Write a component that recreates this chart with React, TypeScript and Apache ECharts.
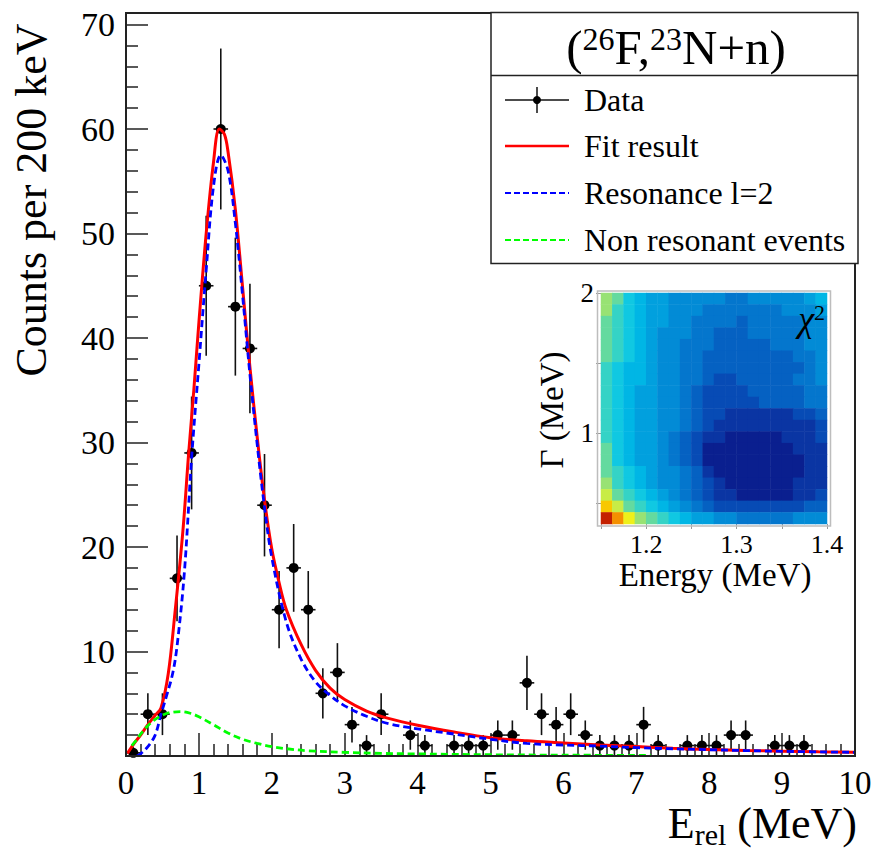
import React, { useEffect, useRef } from 'react';
import * as echarts from 'echarts';

const FONT = '"Liberation Serif", "Times New Roman", serif';
const f = (px: number) => `${px}px ${FONT}`;

// ---------------- main spectrum data (bin centres, counts, errors) ----------------
const DATA_E = [0.1, 0.3, 0.5, 0.7, 0.9, 1.1, 1.3, 1.5, 1.7, 1.9, 2.1, 2.3, 2.5, 2.7, 2.9, 3.1, 3.3, 3.5, 3.9, 4.1,
  4.5, 4.7, 4.9, 5.1, 5.3, 5.5, 5.7, 5.9, 6.1, 6.3, 6.5, 6.7, 6.9, 7.1, 7.3, 7.7, 7.9, 8.1, 8.3, 8.5, 8.9, 9.1, 9.3];
const DATA_COUNTS = [0.3, 4, 4, 17, 29, 45, 60, 43, 39, 24, 14, 18, 14, 6, 8, 3, 1, 4, 2, 1,
  1, 1, 1, 2, 2, 7, 4, 3, 4, 2, 1, 1, 1, 3, 1, 1, 1, 1, 2, 2, 1, 1, 1];
const DATA_ERR = [0.55, 2, 2, 4.1, 5.4, 6.7, 7.7, 6.6, 6.2, 4.9, 3.7, 4.2, 3.7, 2.4, 2.8, 1.7, 1, 2, 1.4, 1,
  1, 1, 1, 1.4, 1.4, 2.6, 2, 1.7, 2, 1.4, 1, 1, 1, 1.7, 1, 1, 1, 1, 1.4, 1.4, 1, 1, 1];
const BIN_HALF_WIDTH = 0.1;

// Fit result (red)
const FIT_E = [0.02, 0.1, 0.2, 0.3, 0.4, 0.48, 0.58, 0.67, 0.78, 0.86, 0.93, 1.0, 1.1, 1.2, 1.28, 1.35, 1.4, 1.5, 1.6, 1.7,
  1.8, 1.9, 2.0, 2.1, 2.2, 2.4, 2.6, 2.8, 3.0, 3.3, 3.6, 4.0, 4.5, 5.0, 5.5, 6.0, 6.5, 7.0, 7.5, 8.0, 8.5, 9.0, 9.5, 10];
const FIT_Y = [0.25, 1.1, 2.0, 3.0, 3.9, 4.6, 7.9, 13.6, 21.5, 29, 35, 41.5, 50, 56.8, 60, 59.5, 57.8, 52.3, 44.8, 37.2,
  30.5, 24.5, 19.8, 16.6, 14, 10.7, 8.2, 6.5, 5.4, 4.3, 3.6, 2.95, 2.3, 1.75, 1.45, 1.25, 1.05, 0.9, 0.75, 0.62, 0.53, 0.46, 0.4, 0.35];

// Resonance l=2 (blue dashed)
const RES_E = [0.15, 0.2, 0.3, 0.4, 0.48, 0.55, 0.64, 0.7, 0.8, 0.9, 1.0, 1.1, 1.2, 1.3, 1.4, 1.5, 1.6, 1.7, 1.8, 1.9,
  2.0, 2.2, 2.4, 2.6, 2.8, 3.0, 3.3, 3.6, 4.0, 4.5, 5.0, 5.5, 6.0, 6.5, 7.0, 8.0, 9.0, 10];
const RES_Y = [0, 0.2, 0.9, 2.0, 4.0, 5.6, 7.9, 10.5, 17.5, 28.5, 37.5, 46.5, 54.5, 57.5, 56, 51, 44, 36.5, 29.8, 23.8,
  19, 12.8, 9.3, 7.1, 5.8, 4.8, 3.8, 3.1, 2.6, 2.1, 1.6, 1.2, 1.05, 0.95, 0.8, 0.6, 0.45, 0.35];

// Non resonant events (green dashed)
const BKG_E = [0.08, 0.15, 0.2, 0.3, 0.4, 0.5, 0.6, 0.75, 0.9, 1.0, 1.2, 1.4, 1.6, 1.8, 2.0, 2.2, 2.5, 3.0, 3.5, 4.0, 5.0, 6.0, 7.2];
const BKG_Y = [1.0, 1.6, 2.1, 2.9, 3.5, 3.9, 4.15, 4.25, 4.05, 3.75, 3.0, 2.2, 1.6, 1.2, 0.9, 0.7, 0.5, 0.35, 0.25, 0.2, 0.12, 0.08, 0.05];

// ---------------- inset (chi2 map) ----------------
const INSET_E_TICKS = [1.15, 1.2, 1.25, 1.3, 1.35, 1.4];
const INSET_E_LABELS = [1.2, 1.3, 1.4];
const INSET_G_TICKS = [0.5, 1, 1.5, 2];
const INSET_G_LABELS = [1, 2];

// contour level index per cell (rows: Gamma 2.0 -> 0.35, columns: E 1.15 -> 1.40)
const CHI2_LEVELS = [
  [11, 10, 8, 7, 6, 6, 5, 5, 5, 5, 5, 4, 4, 5, 5, 5, 5, 5, 6, 7],
  [11, 9, 8, 7, 6, 6, 5, 5, 5, 4, 4, 4, 4, 4, 4, 4, 5, 5, 5, 6],
  [10, 9, 8, 7, 6, 6, 5, 5, 4, 4, 4, 4, 3, 4, 4, 4, 4, 4, 5, 5],
  [10, 9, 8, 7, 6, 5, 5, 5, 4, 4, 3, 3, 3, 4, 4, 4, 4, 4, 5, 5],
  [10, 9, 8, 7, 6, 5, 5, 4, 4, 4, 3, 3, 3, 3, 3, 4, 4, 4, 5, 5],
  [10, 9, 8, 7, 6, 5, 5, 4, 4, 3, 3, 3, 3, 3, 3, 3, 3, 4, 4, 5],
  [9, 8, 7, 7, 6, 5, 5, 4, 4, 3, 3, 3, 3, 3, 3, 3, 3, 3, 4, 5],
  [9, 8, 7, 7, 6, 5, 5, 4, 4, 3, 2, 2, 3, 3, 3, 3, 3, 4, 4, 5],
  [9, 8, 7, 6, 6, 5, 5, 4, 3, 2, 2, 2, 2, 3, 3, 3, 3, 3, 4, 4],
  [9, 8, 7, 6, 6, 5, 5, 4, 3, 2, 2, 2, 2, 2, 3, 3, 3, 3, 4, 4],
  [9, 8, 7, 6, 6, 5, 5, 4, 3, 2, 2, 1, 1, 1, 1, 1, 1, 2, 2, 3],
  [9, 8, 7, 6, 6, 5, 5, 4, 3, 2, 1, 1, 1, 1, 1, 1, 1, 1, 1, 2],
  [9, 8, 7, 6, 6, 5, 4, 3, 2, 1, 1, 0, 0, 0, 0, 0, 1, 1, 1, 2],
  [10, 8, 7, 6, 6, 5, 4, 3, 2, 0, 0, 0, 0, 0, 0, 0, 0, 1, 1, 1],
  [10, 8, 7, 6, 6, 5, 4, 3, 2, 0, 0, 0, 0, 0, 0, 0, 0, 0, 1, 1],
  [10, 9, 8, 7, 6, 5, 5, 4, 3, 1, 0, 0, 0, 0, 0, 0, 0, 0, 1, 1],
  [11, 9, 8, 7, 6, 5, 5, 4, 3, 2, 1, 0, 0, 0, 0, 0, 0, 1, 1, 1],
  [12, 10, 9, 8, 7, 6, 5, 4, 3, 2, 1, 1, 0, 0, 0, 0, 0, 1, 1, 2],
  [14, 12, 10, 9, 8, 7, 6, 5, 4, 3, 2, 2, 2, 2, 2, 2, 2, 2, 3, 3],
  [17, 15, 13, 11, 10, 9, 8, 7, 6, 6, 5, 5, 4, 4, 4, 4, 4, 5, 5, 5],
];
const CHI2_COLORS = ['#0a1f8f', '#0a35a3', '#074bb5', '#0561c2', '#0476cd', '#028bd6', '#01a0de', '#00b6e5', '#10c8e2',
  '#35d3c6', '#64da9f', '#98e274', '#c8ec46', '#eef01a', '#f8c800', '#f49000', '#e85500', '#c42000', '#8a0000'];

export default function App() {
  const ref = useRef<HTMLDivElement>(null);

  useEffect(() => {
    document.body.style.margin = '0';
    const chart = echarts.init(ref.current as HTMLDivElement, undefined, { renderer: 'svg' });

    const heatData: number[][] = [];
    CHI2_LEVELS.forEach((row, r) => row.forEach((lv, c) => heatData.push([c, r, lv])));
    const colNames = CHI2_LEVELS[0].map((_, i) => String(i));
    const rowNames = CHI2_LEVELS.map((_, i) => String(i));

    const tickStyle = { color: '#222', width: 1.5 };
    const lbl = (size: number) => ({ fontFamily: FONT, fontSize: size, color: '#000' });

    const option: any = {
      animation: false,
      backgroundColor: '#fff',
      grid: [
        { left: 126, top: 24.5, width: 729, height: 731.5 },
        { left: 601, top: 293, width: 226, height: 231 },
        { left: 601, top: 293, width: 226, height: 231 },
      ],
      xAxis: [
        {
          type: 'value', gridIndex: 0, min: 0, max: 10, interval: 1,
          axisLine: { show: false }, splitLine: { show: false },
          axisTick: { show: true, inside: true, length: 23, lineStyle: tickStyle },
          minorTick: { show: true, splitNumber: 5, length: 12, lineStyle: tickStyle },
          axisLabel: { ...lbl(33), margin: 10 },
        },
        { type: 'category', gridIndex: 1, data: colNames, show: false },
        {
          type: 'value', gridIndex: 2, min: 1.15, max: 1.4,
          axisLine: { show: false }, splitLine: { show: false },
          axisTick: { show: true, customValues: INSET_E_TICKS, length: 5, lineStyle: { color: '#999', width: 1 } },
          axisLabel: { ...lbl(26), customValues: INSET_E_LABELS, margin: 7, formatter: (v: number) => v.toFixed(1) },
        },
      ],
      yAxis: [
        {
          type: 'value', gridIndex: 0, min: 0, max: 70, interval: 10,
          axisLine: { show: false }, splitLine: { show: false },
          axisTick: { show: true, inside: true, length: 22, lineStyle: tickStyle },
          minorTick: { show: true, splitNumber: 5, length: 12, lineStyle: tickStyle },
          axisLabel: { ...lbl(34), margin: 11, formatter: (v: number) => (v === 0 ? '' : String(v)) },
        },
        { type: 'category', gridIndex: 1, data: rowNames, show: false, inverse: true },
        {
          type: 'value', gridIndex: 2, min: 0.35, max: 2.0,
          axisLine: { show: false }, splitLine: { show: false },
          axisTick: { show: true, customValues: INSET_G_TICKS, length: 5, lineStyle: { color: '#999', width: 1 } },
          axisLabel: { ...lbl(27), customValues: INSET_G_LABELS, margin: 7, formatter: (v: number) => String(v) },
        },
      ],
      visualMap: {
        type: 'piecewise', show: false, seriesIndex: 4, dimension: 2,
        pieces: CHI2_COLORS.map((color, i) => ({ value: i, color })),
      },
      series: [
        {
          type: 'custom', xAxisIndex: 0, yAxisIndex: 0, z: 2,
          encode: { x: 0, y: 1 },
          data: DATA_E.map((e, i) => [e, DATA_COUNTS[i], DATA_ERR[i]]),
          renderItem: (params: any, api: any) => {
            const x = api.value(0), y = api.value(1), err = api.value(2);
            const c = api.coord([x, y]);
            const lo = api.coord([x, Math.max(0, y - err)]);
            const hi = api.coord([x, y + err]);
            const l = api.coord([x - BIN_HALF_WIDTH, y]);
            const r = api.coord([x + BIN_HALF_WIDTH, y]);
            const st = { stroke: '#111', lineWidth: 1.6 };
            return {
              type: 'group',
              children: [
                { type: 'line', shape: { x1: lo[0], y1: lo[1], x2: hi[0], y2: hi[1] }, style: st },
                { type: 'line', shape: { x1: l[0], y1: l[1], x2: r[0], y2: r[1] }, style: st },
                { type: 'circle', shape: { cx: c[0], cy: c[1], r: 5 }, style: { fill: '#000' } },
              ],
            };
          },
        },
        {
          type: 'line', xAxisIndex: 0, yAxisIndex: 0, z: 3, showSymbol: false, smooth: 0.35,
          data: FIT_E.map((e, i) => [e, FIT_Y[i]]),
          lineStyle: { color: '#ff0000', width: 3 },
        },
        {
          type: 'line', xAxisIndex: 0, yAxisIndex: 0, z: 4, showSymbol: false, smooth: 0.35,
          data: RES_E.map((e, i) => [e, RES_Y[i]]),
          lineStyle: { color: '#0000ff', width: 2.8, type: [7, 4] },
        },
        {
          type: 'line', xAxisIndex: 0, yAxisIndex: 0, z: 4, showSymbol: false, smooth: 0.35,
          data: BKG_E.map((e, i) => [e, BKG_Y[i]]),
          lineStyle: { color: '#00ff00', width: 2.8, type: [7, 4] },
        },
        {
          type: 'heatmap', xAxisIndex: 1, yAxisIndex: 1, z: 1,
          data: heatData,
          itemStyle: { borderWidth: 0 },
          emphasis: { disabled: true },
          progressive: 0,
        },
      ],
      graphic: [
        // main frame
        { type: 'rect', z: 40, silent: true, shape: { x: 126, y: 13, width: 729, height: 743 },
          style: { fill: 'none', stroke: '#222', lineWidth: 2 } },
        // inset frame
        { type: 'rect', z: 40, silent: true, shape: { x: 597.5, y: 291, width: 233, height: 235 },
          style: { fill: 'none', stroke: '#bdbdbd', lineWidth: 1.5 } },
        // axis titles
        { type: 'text', z: 40, x: 31, y: 200, rotation: Math.PI / 2,
          style: { text: 'Counts per 200 keV', font: f(44), fill: '#000', textAlign: 'center', textVerticalAlign: 'middle' } },
        { type: 'text', z: 40, x: 857, y: 801,
          style: {
            text: '{m|E}{s|rel}{m| (MeV)}', fill: '#000', textAlign: 'right', textVerticalAlign: 'top',
            rich: {
              m: { font: f(44), fill: '#000', verticalAlign: 'top' },
              s: { font: f(30), fill: '#000', verticalAlign: 'bottom', lineHeight: 48 },
            },
          } },
        // inset titles
        { type: 'text', z: 40, x: 715, y: 575,
          style: { text: 'Energy (MeV)', font: f(33), fill: '#000', textAlign: 'center', textVerticalAlign: 'middle' } },
        { type: 'text', z: 40, x: 552, y: 410, rotation: Math.PI / 2,
          style: { text: 'Γ (MeV)', font: f(33), fill: '#000', textAlign: 'center', textVerticalAlign: 'middle' } },
        { type: 'text', z: 40, x: 825, y: 301,
          style: {
            text: '{c|χ}{s|2}', fill: '#000', textAlign: 'right', textVerticalAlign: 'top',
            rich: {
              c: { font: `italic 36px ${FONT}`, fill: '#000', verticalAlign: 'bottom' },
              s: { font: f(22), fill: '#000', verticalAlign: 'top' },
            },
          } },
        // legend box
        { type: 'rect', z: 50, shape: { x: 491, y: 12.5, width: 367, height: 251 },
          style: { fill: '#fff', stroke: '#222', lineWidth: 1.5 } },
        { type: 'line', z: 51, shape: { x1: 491, y1: 75.5, x2: 858, y2: 75.5 }, style: { stroke: '#222', lineWidth: 1.5 } },
        { type: 'text', z: 52, x: 676, y: 47,
          style: {
            text: '{m|(}{s|26}{m|F,}{s|23}{m|N+n)}', fill: '#000', textAlign: 'center', textVerticalAlign: 'middle',
            rich: {
              m: { font: f(49), fill: '#000', verticalAlign: 'bottom' },
              s: { font: f(32), fill: '#000', verticalAlign: 'top' },
            },
          } },
        // legend: Data
        { type: 'line', z: 52, shape: { x1: 505, y1: 100, x2: 569, y2: 100 }, style: { stroke: '#111', lineWidth: 1.5 } },
        { type: 'line', z: 52, shape: { x1: 537, y1: 87, x2: 537, y2: 113 }, style: { stroke: '#111', lineWidth: 1.5 } },
        { type: 'circle', z: 52, shape: { cx: 537, cy: 100, r: 4 }, style: { fill: '#000' } },
        { type: 'text', z: 52, x: 584, y: 100, style: { text: 'Data', font: f(32), fill: '#000', textAlign: 'left', textVerticalAlign: 'middle' } },
        // legend: Fit
        { type: 'line', z: 52, shape: { x1: 505, y1: 146, x2: 569, y2: 146 }, style: { stroke: '#ff0000', lineWidth: 2.5 } },
        { type: 'text', z: 52, x: 584, y: 146, style: { text: 'Fit result', font: f(32), fill: '#000', textAlign: 'left', textVerticalAlign: 'middle' } },
        // legend: Resonance
        { type: 'line', z: 52, shape: { x1: 505, y1: 193, x2: 569, y2: 193 }, style: { stroke: '#0000ff', lineWidth: 2, lineDash: [6, 3] } },
        { type: 'text', z: 52, x: 584, y: 193, style: { text: 'Resonance l=2', font: f(32), fill: '#000', textAlign: 'left', textVerticalAlign: 'middle' } },
        // legend: Non resonant
        { type: 'line', z: 52, shape: { x1: 505, y1: 240, x2: 569, y2: 240 }, style: { stroke: '#00ff00', lineWidth: 2, lineDash: [6, 3] } },
        { type: 'text', z: 52, x: 584, y: 240, style: { text: 'Non resonant events', font: f(32), fill: '#000', textAlign: 'left', textVerticalAlign: 'middle' } },
      ],
    };

    chart.setOption(option);
    return () => chart.dispose();
  }, []);

  return <div ref={ref} style={{ width: 879, height: 850 }} />;
}
